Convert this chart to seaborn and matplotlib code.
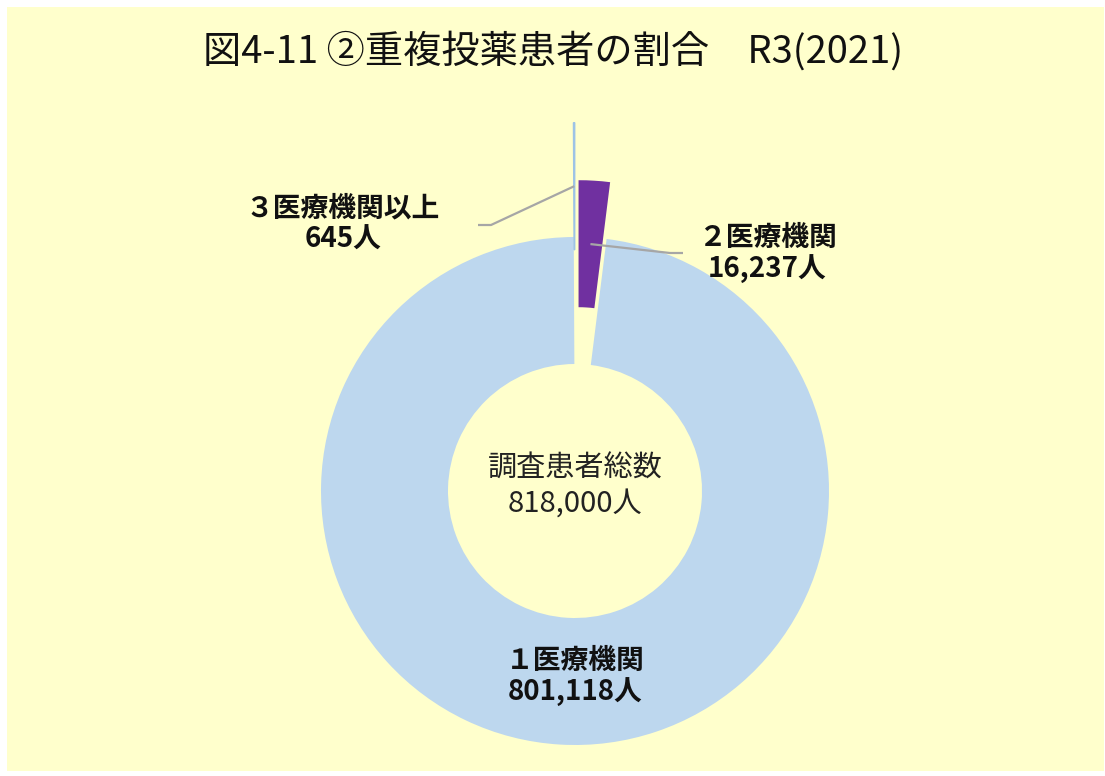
import numpy as np
import matplotlib
matplotlib.use("Agg")
import matplotlib.pyplot as plt
from matplotlib.patches import Rectangle
import seaborn as sns

# Survey data: patients by number of medical institutions visited
categories = ["１医療機関", "２医療機関", "３医療機関以上"]
patients = [801118, 16237, 645]
total_label = "調査患者総数"
total_patients = 818000
title = "図4-11 ②重複投薬患者の割合　R3(2021)"

colors = ["#BDD7EE", "#7030A0", "#9DC3E6"]
explode = [0.0, 0.224, 0.45]

sns.set_theme(style="white")
plt.rcParams["font.family"] = ["Noto Sans CJK JP", "DejaVu Sans"]

W, H = 1105, 776
fig = plt.figure(figsize=(W / 100, H / 100), dpi=100)
fig.patch.set_facecolor("white")

# pale yellow chart area
fig.patches.append(Rectangle((7 / W, 5 / H), 1097 / W, 764 / H,
                             transform=fig.transFigure, facecolor="#FFFFCC",
                             edgecolor="none", zorder=-5))

# axes spanning the whole figure; one data unit = pie radius in pixels
CX, CY, R = 575, 491, 254
ax = fig.add_axes([0, 0, 1, 1], zorder=1)
ax.set_facecolor("none")
ax.patch.set_alpha(0)


def px(x, y):
    return ((x - CX) / R, (CY - y) / R)


# draw order clockwise from 12 o'clock: 2 institutions, 1 institution, 3+
order = [1, 0, 2]
wedges, _ = ax.pie([patients[i] for i in order],
                   colors=[colors[i] for i in order],
                   explode=[explode[i] for i in order],
                   startangle=90, counterclock=False, radius=1.0,
                   wedgeprops=dict(width=0.5, linewidth=0))
wedge_of = {cat_i: w for cat_i, w in zip(order, wedges)}
# keep the very thin slice visible
wedge_of[2].set_edgecolor(colors[2])
wedge_of[2].set_linewidth(1.0)

ax.set_xlim(px(0, 0)[0], px(W, 0)[0])
ax.set_ylim(px(0, H)[1], px(0, 0)[1])
ax.set_aspect("auto")
ax.axis("off")


def ring_point(w):
    mid = np.deg2rad((w.theta1 + w.theta2) / 2)
    cx, cy = w.center
    return cx + 0.75 * np.cos(mid), cy + 0.75 * np.sin(mid)


lead = dict(color="#A6A6A6", lw=1.6, solid_capstyle="butt", zorder=3)
label_kw = dict(ha="center", va="center", fontsize=20, fontweight="bold",
                color="#111111", linespacing=1.15)

# 3+ institutions (left label)
sx, sy = ring_point(wedge_of[2])
e1, e2 = px(491, 225), px(478, 225)
ax.plot([sx, e1[0], e2[0]], [sy, e1[1], e2[1]], **lead)
tx, ty = px(343, 224)
ax.text(tx, ty, f"{categories[2]}\n{patients[2]:,}人", **label_kw)

# 2 institutions (right label)
sx, sy = ring_point(wedge_of[1])
e1, e2 = px(670, 253), px(683, 253)
ax.plot([sx, e1[0], e2[0]], [sy, e1[1], e2[1]], **lead)
tx, ty = px(767, 254)
ax.text(tx, ty, f"{categories[1]}\n{patients[1]:,}人", **label_kw)

# 1 institution (inside the ring, bottom)
tx, ty = px(575, 677)
ax.text(tx, ty, f"{categories[0]}\n{patients[0]:,}人", **label_kw)

# total in the hole
tx, ty = px(575, 486)
ax.text(tx, ty, f"{total_label}\n{total_patients:,}人", ha="center",
        va="center", fontsize=21, color="#222222", linespacing=1.2)

fig.text(553 / W, 1 - 52 / H, title, ha="center", va="center",
         fontsize=27.5, color="#111111")

fig.savefig("out.png", dpi=100, facecolor=fig.get_facecolor())
